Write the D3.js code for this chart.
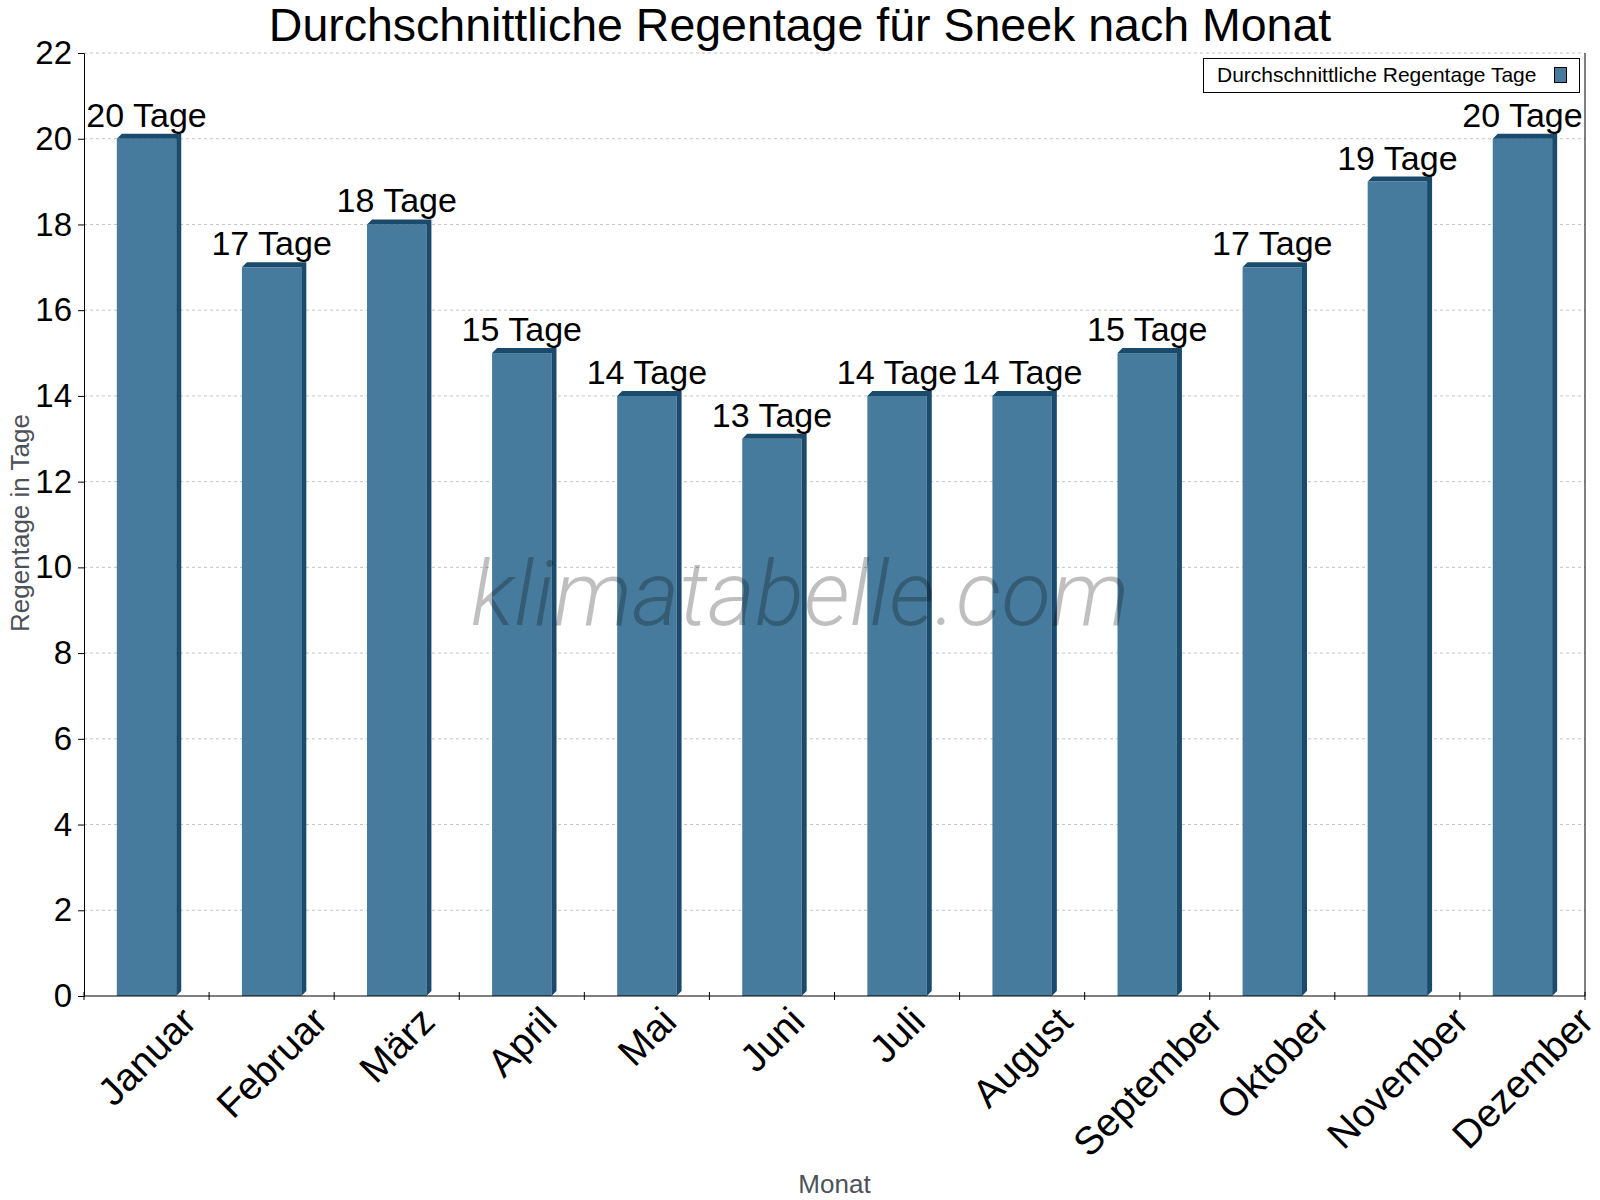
<!DOCTYPE html>
<html lang="de">
<head>
    <meta charset="UTF-8">
    <title>Regentage Sneek</title>
    <style>
        body { margin: 0; background: #fff; }
        text { font-family: "Liberation Sans", Arial, sans-serif; }
    </style>
    <script src="https://d3js.org/d3.v7.min.js"></script>
</head>
<body>
<script>
// data
const months = ["Januar", "Februar", "März", "April", "Mai", "Juni", "Juli",
    "August", "September", "Oktober", "November", "Dezember"];
const rainDays = [20, 17, 18, 15, 14, 13, 14, 14, 15, 17, 19, 20];
const yTicks = [0, 2, 4, 6, 8, 10, 12, 14, 16, 18, 20, 22];

const chartTitle = "Durchschnittliche Regentage für Sneek nach Monat";
const legendLabel = "Durchschnittliche Regentage Tage";

const width = 1600, height = 1200;
const plotLeft = 84, plotRight = 1585, plotTop = 53, plotBottom = 996;
const depthX = 5, depthY = 5; // fake 3d offset
const frontColor = "#467b9d", sideColor = "#1a4b6d";

var svg = d3.select("body").append("svg")
    .attr("width", width)
    .attr("height", height);

var x = d3.scaleBand()
    .domain(months)
    .range([plotLeft, plotRight]);

var y = d3.scaleLinear()
    .domain([0, 22])
    .range([plotBottom, plotTop]);

var barW = x.bandwidth() * 0.475;

// dotted grid lines
svg.append("g")
    .selectAll("line")
    .data(yTicks.filter(d => d > 0))
    .enter()
    .append("line")
    .attr("x1", plotLeft)
    .attr("x2", plotRight)
    .attr("y1", d => y(d))
    .attr("y2", d => y(d))
    .attr("stroke", "#c4c4c4")
    .attr("stroke-width", 1)
    .attr("stroke-dasharray", "3,3");

// bars with a small side and top face
var bars = svg.append("g")
    .selectAll("g")
    .data(months)
    .enter()
    .append("g");

bars.append("rect")
    .attr("x", d => x(d) + (x.bandwidth() - barW) / 2)
    .attr("y", (d, i) => y(rainDays[i]))
    .attr("width", barW)
    .attr("height", (d, i) => y(0) - y(rainDays[i]))
    .attr("fill", frontColor);

bars.append("path")
    .attr("fill", sideColor)
    .attr("d", function (d, i) {
        var x0 = x(d) + (x.bandwidth() - barW) / 2, x1 = x0 + barW;
        var yt = y(rainDays[i]), yb = y(0);
        return "M" + x1 + "," + yt + "L" + (x1 + depthX) + "," + (yt - depthY) +
            "L" + (x1 + depthX) + "," + (yb - depthY) + "L" + x1 + "," + yb + "Z" +
            "M" + x0 + "," + yt + "L" + (x0 + depthX) + "," + (yt - depthY) +
            "L" + (x1 + depthX) + "," + (yt - depthY) + "L" + x1 + "," + yt + "Z";
    });

// value labels
bars.append("text")
    .attr("x", d => x(d) + x.bandwidth() / 2)
    .attr("y", (d, i) => y(rainDays[i]) - 12)
    .attr("text-anchor", "middle")
    .attr("font-size", 34)
    .attr("fill", "#000")
    .text((d, i) => rainDays[i] + " Tage");

// y axis
var yAxis = svg.append("g")
    .attr("transform", "translate(" + plotLeft + ",0)")
    .call(d3.axisLeft(y).tickValues(yTicks).tickSize(6).tickPadding(6));
yAxis.select(".domain").attr("stroke", "#000");
yAxis.selectAll("text")
    .attr("font-size", 33)
    .attr("fill", "#000")
    .attr("font-family", "Liberation Sans, Arial, sans-serif");

// x axis, ticks sit between the months
var xAxis = svg.append("g")
    .attr("transform", "translate(0," + plotBottom + ")");
xAxis.append("line")
    .attr("x1", plotLeft).attr("x2", plotRight)
    .attr("stroke", "#000");
xAxis.selectAll(".tick")
    .data(d3.range(months.length + 1))
    .enter()
    .append("line")
    .attr("class", "tick")
    .attr("x1", i => plotLeft + i * x.step())
    .attr("x2", i => plotLeft + i * x.step())
    .attr("y1", -4)
    .attr("y2", 4)
    .attr("stroke", "#000");

// right border line
svg.append("line")
    .attr("x1", plotRight).attr("x2", plotRight)
    .attr("y1", plotTop).attr("y2", plotBottom)
    .attr("stroke", "#000");

// rotated month labels, top of the rotated box just under the axis
svg.append("g")
    .selectAll("text")
    .data(months)
    .enter()
    .append("text")
    .attr("text-anchor", "middle")
    .attr("dy", "0.35em")
    .attr("font-size", 39)
    .attr("fill", "#000")
    .text(d => d)
    .each(function (d) {
        var cx = x(d) + x.bandwidth() / 2;
        var el = d3.select(this);
        el.attr("transform", "translate(" + cx + ",1100) rotate(-45)");
        var box = this.getBoundingClientRect();
        var cy = 1100 + (999 - box.top);
        el.attr("transform", "translate(" + cx + "," + cy + ") rotate(-45)");
    });

// axis titles
svg.append("text")
    .attr("transform", "translate(29,523) rotate(-90)")
    .attr("text-anchor", "middle")
    .attr("font-size", 26)
    .attr("fill", "#4d525a")
    .text("Regentage in Tage");

svg.append("text")
    .attr("x", (plotLeft + plotRight) / 2)
    .attr("y", 1193)
    .attr("text-anchor", "middle")
    .attr("font-size", 26)
    .attr("fill", "#4d525a")
    .text("Monat");

// title
svg.append("text")
    .attr("x", 800)
    .attr("y", 41)
    .attr("text-anchor", "middle")
    .attr("font-size", 46.5)
    .attr("fill", "#000")
    .text(chartTitle);

// legend
var legend = svg.append("g");
legend.append("rect")
    .attr("x", 1203.5).attr("y", 58.5)
    .attr("width", 376).attr("height", 34)
    .attr("fill", "#fff")
    .attr("stroke", "#000");
legend.append("text")
    .attr("x", 1217).attr("y", 82)
    .attr("font-size", 21)
    .attr("fill", "#000")
    .text(legendLabel);
legend.append("rect")
    .attr("x", 1554.5).attr("y", 67.5)
    .attr("width", 12).attr("height", 15)
    .attr("fill", frontColor)
    .attr("stroke", "#000");

// watermark on top of everything
svg.append("text")
    .attr("x", 800)
    .attr("y", 625)
    .attr("text-anchor", "middle")
    .attr("font-size", 91)
    .attr("font-style", "italic")
    .attr("font-weight", 300)
    .style("font-family", "Roboto, sans-serif")
    .attr("fill", "#000")
    .attr("fill-opacity", 0.25)
    .text("klimatabelle.com");
</script>
</body>
</html>
